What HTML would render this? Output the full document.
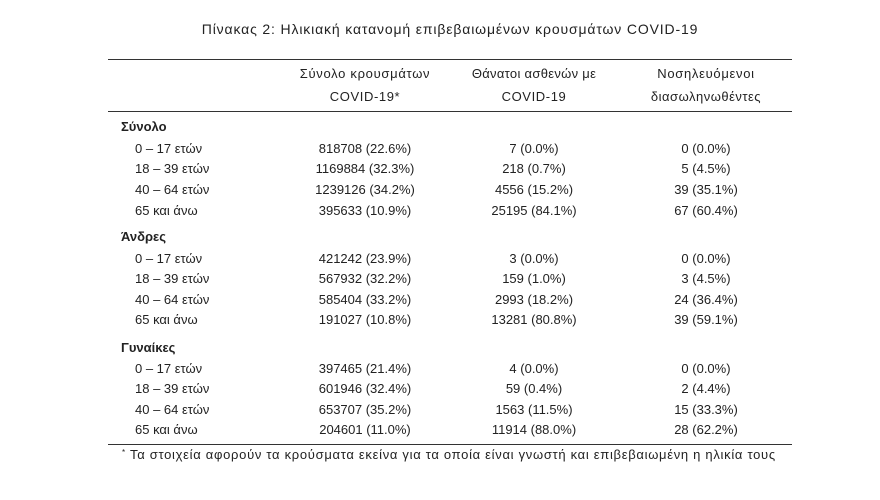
<!DOCTYPE html>
<html>
<head>
<meta charset="utf-8">
<style>
html,body{margin:0;padding:0;background:#fff;}
body{width:880px;height:500px;position:relative;overflow:hidden;font-family:"Liberation Sans","DejaVu Sans",sans-serif;color:#222;}
.t{position:absolute;line-height:16px;font-size:13px;white-space:nowrap;}
.c1,.c2,.c3{width:200px;text-align:center;}
.c1{left:265px;}
.c2{left:434px;}
.c3{left:606px;}
.lab{left:135px;}
.grp{left:121px;font-weight:bold;}
.rule{position:absolute;left:108px;width:684px;height:0;border-top:1.8px solid #333;}
.h{letter-spacing:0.6px;}
</style>
</head>
<body>
<div class="t" style="left:150px;width:600px;text-align:center;top:20px;font-size:14px;line-height:18px;letter-spacing:0.85px;">Πίνακας 2: Ηλικιακή κατανομή επιβεβαιωμένων κρουσμάτων COVID-19</div>

<div class="rule" style="top:59px;"></div>
<div class="t c1 h" style="top:66px;letter-spacing:0.7px;">Σύνολο κρουσμάτων</div>
<div class="t c1 h" style="top:89px;">COVID-19*</div>
<div class="t c2 h" style="top:66px;letter-spacing:0.3px;">Θάνατοι ασθενών με</div>
<div class="t c2 h" style="top:89px;">COVID-19</div>
<div class="t c3 h" style="top:66px;letter-spacing:0.7px;">Νοσηλευόμενοι</div>
<div class="t c3 h" style="top:89px;letter-spacing:0.5px;">διασωληνωθέντες</div>
<div class="rule" style="top:111px;"></div>

<div class="t grp" style="top:119px;">Σύνολο</div>
<div class="t lab" style="top:141px;">0 – 17 ετών</div>
<div class="t c1" style="top:141px;">818708 (22.6%)</div>
<div class="t c2" style="top:141px;">7 (0.0%)</div>
<div class="t c3" style="top:141px;">0 (0.0%)</div>
<div class="t lab" style="top:161px;">18 – 39 ετών</div>
<div class="t c1" style="top:161px;">1169884 (32.3%)</div>
<div class="t c2" style="top:161px;">218 (0.7%)</div>
<div class="t c3" style="top:161px;">5 (4.5%)</div>
<div class="t lab" style="top:182px;">40 – 64 ετών</div>
<div class="t c1" style="top:182px;">1239126 (34.2%)</div>
<div class="t c2" style="top:182px;">4556 (15.2%)</div>
<div class="t c3" style="top:182px;">39 (35.1%)</div>
<div class="t lab" style="top:203px;">65 και άνω</div>
<div class="t c1" style="top:203px;">395633 (10.9%)</div>
<div class="t c2" style="top:203px;">25195 (84.1%)</div>
<div class="t c3" style="top:203px;">67 (60.4%)</div>

<div class="t grp" style="top:229px;">Άνδρες</div>
<div class="t lab" style="top:251px;">0 – 17 ετών</div>
<div class="t c1" style="top:251px;">421242 (23.9%)</div>
<div class="t c2" style="top:251px;">3 (0.0%)</div>
<div class="t c3" style="top:251px;">0 (0.0%)</div>
<div class="t lab" style="top:271px;">18 – 39 ετών</div>
<div class="t c1" style="top:271px;">567932 (32.2%)</div>
<div class="t c2" style="top:271px;">159 (1.0%)</div>
<div class="t c3" style="top:271px;">3 (4.5%)</div>
<div class="t lab" style="top:292px;">40 – 64 ετών</div>
<div class="t c1" style="top:292px;">585404 (33.2%)</div>
<div class="t c2" style="top:292px;">2993 (18.2%)</div>
<div class="t c3" style="top:292px;">24 (36.4%)</div>
<div class="t lab" style="top:312px;">65 και άνω</div>
<div class="t c1" style="top:312px;">191027 (10.8%)</div>
<div class="t c2" style="top:312px;">13281 (80.8%)</div>
<div class="t c3" style="top:312px;">39 (59.1%)</div>

<div class="t grp" style="top:340px;">Γυναίκες</div>
<div class="t lab" style="top:361px;">0 – 17 ετών</div>
<div class="t c1" style="top:361px;">397465 (21.4%)</div>
<div class="t c2" style="top:361px;">4 (0.0%)</div>
<div class="t c3" style="top:361px;">0 (0.0%)</div>
<div class="t lab" style="top:381px;">18 – 39 ετών</div>
<div class="t c1" style="top:381px;">601946 (32.4%)</div>
<div class="t c2" style="top:381px;">59 (0.4%)</div>
<div class="t c3" style="top:381px;">2 (4.4%)</div>
<div class="t lab" style="top:402px;">40 – 64 ετών</div>
<div class="t c1" style="top:402px;">653707 (35.2%)</div>
<div class="t c2" style="top:402px;">1563 (11.5%)</div>
<div class="t c3" style="top:402px;">15 (33.3%)</div>
<div class="t lab" style="top:422px;">65 και άνω</div>
<div class="t c1" style="top:422px;">204601 (11.0%)</div>
<div class="t c2" style="top:422px;">11914 (88.0%)</div>
<div class="t c3" style="top:422px;">28 (62.2%)</div>

<div class="rule" style="top:444px;"></div>
<div class="t" style="left:122px;top:448px;font-size:8px;line-height:10px;">*</div>
<div class="t" style="left:130px;top:447px;font-size:13px;letter-spacing:0.7px;">Τα στοιχεία αφορούν τα κρούσματα εκείνα για τα οποία είναι γνωστή και επιβεβαιωμένη η ηλικία τους</div>
</body>
</html>
